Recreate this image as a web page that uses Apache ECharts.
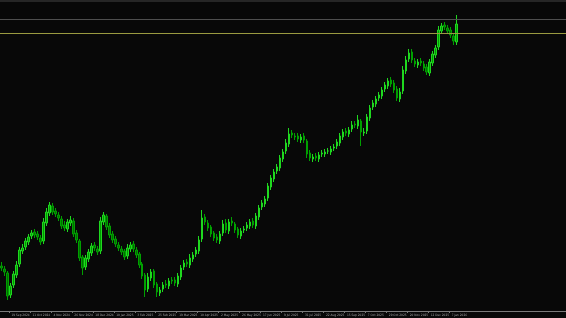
<!DOCTYPE html>
<html>
<head>
<meta charset="utf-8">
<script src="https://cdn.jsdelivr.net/npm/echarts@6/dist/echarts.min.js"></script>
<style>
html,body{margin:0;padding:0;background:#080808;}
#c{width:566px;height:318px;}
</style>
</head>
<body>
<div id="c"></div>
<script>
var opens = [45,42,38,16,26,36,47,60,64,69,75,79,77,73,70,88,98,105,100,96,92,86,82,88,90,78,70,54,44,52,58,66,62,60,89,95,85,77,72,66,62,60,55,62,67,61,57,47,36,22,33,40,27,18,22,27,25,31,31,27,34,44,49,46,52,57,60,72,94,88,84,78,74,70,78,88,80,90,87,82,75,81,83,85,90,85,94,104,107,113,124,132,140,143,152,160,167,178,175,175,171,175,170,158,152,155,152,157,157,160,159,163,165,168,174,180,177,182,187,185,190,178,180,193,204,207,213,215,222,225,231,228,222,212,220,240,252,259,250,246,250,247,244,238,248,256,264,280,286,283,281,275,269];
var closes = [43,39,15,25,37,46,61,63,70,74,78,76,74,69,89,99,106,99,97,93,85,83,89,91,77,71,53,43,53,59,65,63,59,90,96,84,76,71,67,63,59,54,63,66,62,56,46,35,21,34,39,26,19,21,26,26,30,30,28,35,43,48,47,53,56,61,71,93,89,83,77,73,71,77,87,81,89,88,81,76,80,82,86,89,86,95,103,108,112,125,133,139,144,153,159,168,177,176,174,172,174,171,157,153,154,153,156,158,159,160,162,164,169,175,179,178,181,186,186,191,179,179,194,203,208,212,216,221,226,230,227,221,213,219,241,251,258,251,247,249,248,243,239,249,257,263,281,285,284,280,276,270,287];
var lows = [40,35,11,13,23,33,44,57,61,66,72,73,71,66,67,85,95,96,94,90,82,80,79,85,74,68,50,36,41,49,55,60,56,57,86,81,73,68,64,60,56,51,52,59,59,53,43,32,14,19,30,23,14,15,19,23,22,27,25,24,31,41,44,43,49,54,57,69,86,80,74,70,68,67,75,78,77,85,78,73,72,78,80,82,83,82,91,101,104,110,121,129,137,140,149,157,164,173,171,169,168,168,153,150,149,150,149,154,154,157,156,160,162,165,171,175,174,179,183,182,165,175,177,190,201,204,210,212,219,222,224,218,210,209,217,237,249,248,244,243,245,240,236,235,245,253,261,277,281,277,273,266,266];
var highs = [49,45,40,28,40,50,64,67,73,77,81,82,80,76,93,103,109,108,103,99,95,90,92,95,93,81,72,56,56,62,68,69,65,94,99,97,88,80,75,69,65,62,67,69,70,64,59,49,38,38,42,42,29,24,29,31,33,34,34,38,46,51,52,57,59,64,75,101,97,91,86,80,77,80,91,92,92,94,89,84,83,85,89,92,93,98,106,111,115,128,136,142,147,156,162,172,183,181,178,178,177,178,172,161,157,158,159,161,162,163,165,167,172,178,182,183,184,190,190,196,192,183,197,206,211,215,219,224,229,233,234,231,225,223,245,255,262,262,253,252,253,250,247,252,260,266,285,288,289,286,284,278,296];
var tickLabels = ["19 Sep 2024","11 Oct 2024","4 Nov 2024","26 Nov 2024","18 Dec 2024","10 Jan 2025","3 Feb 2025","25 Feb 2025","19 Mar 2025","10 Apr 2025","2 May 2025","26 May 2025","17 Jun 2025","9 Jul 2025","31 Jul 2025","22 Aug 2025","15 Sep 2025","7 Oct 2025","29 Oct 2025","20 Nov 2025","12 Dec 2025","7 Jan 2026"];
var levelLines = [292, 278];
var slotCount = 189;
var firstTick = 3, tickStep = 7;

var categories = [];
var candles = [];
for (var i = 0; i < slotCount; i++) {
  categories.push(String(i));
  if (i < closes.length) candles.push([opens[i], closes[i], lows[i], highs[i]]);
  else candles.push('-');
}
function isTick(idx){ return idx >= firstTick && (idx - firstTick) % tickStep === 0 && (idx - firstTick) / tickStep < tickLabels.length; }

var chart = echarts.init(document.getElementById('c'), null, {renderer:'canvas'});
chart.setOption({
  animation: false,
  backgroundColor: '#080808',
  grid: {left: 0, right: 0, top: 0, bottom: 7, containLabel: false},
  xAxis: {
    type: 'category', data: categories, boundaryGap: true,
    axisLine: {show: true, lineStyle: {color: '#7a7a7a', width: 1}},
    axisTick: {show: true, length: 2, interval: function(idx){return isTick(idx);}, lineStyle: {color: '#7a7a7a'}},
    axisLabel: {
      show: true, interval: function(idx){return isTick(idx);}, hideOverlap: false,
      formatter: function(v, idx){ return isTick(idx) ? tickLabels[(idx - firstTick) / tickStep] : ''; },
      color: '#a0a0a0', fontSize: 3.2, fontFamily: '"Liberation Sans Narrow", "DejaVu Sans Condensed", sans-serif',
      align: 'left', margin: 2.5, padding: [0,0,0,1]
    },
    splitLine: {show: false}
  },
  yAxis: {type: 'value', min: 0, max: 311, show: false, splitLine: {show: false}},
  graphic: [{type: 'rect', shape: {x: 0, y: 0, width: 566, height: 2}, style: {fill: '#262626'}, silent: true}],
  series: [{
    type: 'candlestick', data: candles, barWidth: 2,
    itemStyle: {color: '#009a00', color0: '#006e00', borderColor: '#1fd81f', borderColor0: '#00a000', borderWidth: 1},
    markLine: {
      silent: true, symbol: 'none', animation: false, label: {show: false},
      data: [
        {yAxis: levelLines[0], lineStyle: {color: '#4e4e4e', width: 1, type: 'solid'}},
        {yAxis: levelLines[1], lineStyle: {color: '#9a9a40', width: 1, type: 'solid'}}
      ]
    }
  }]
});
</script>
</body>
</html>
